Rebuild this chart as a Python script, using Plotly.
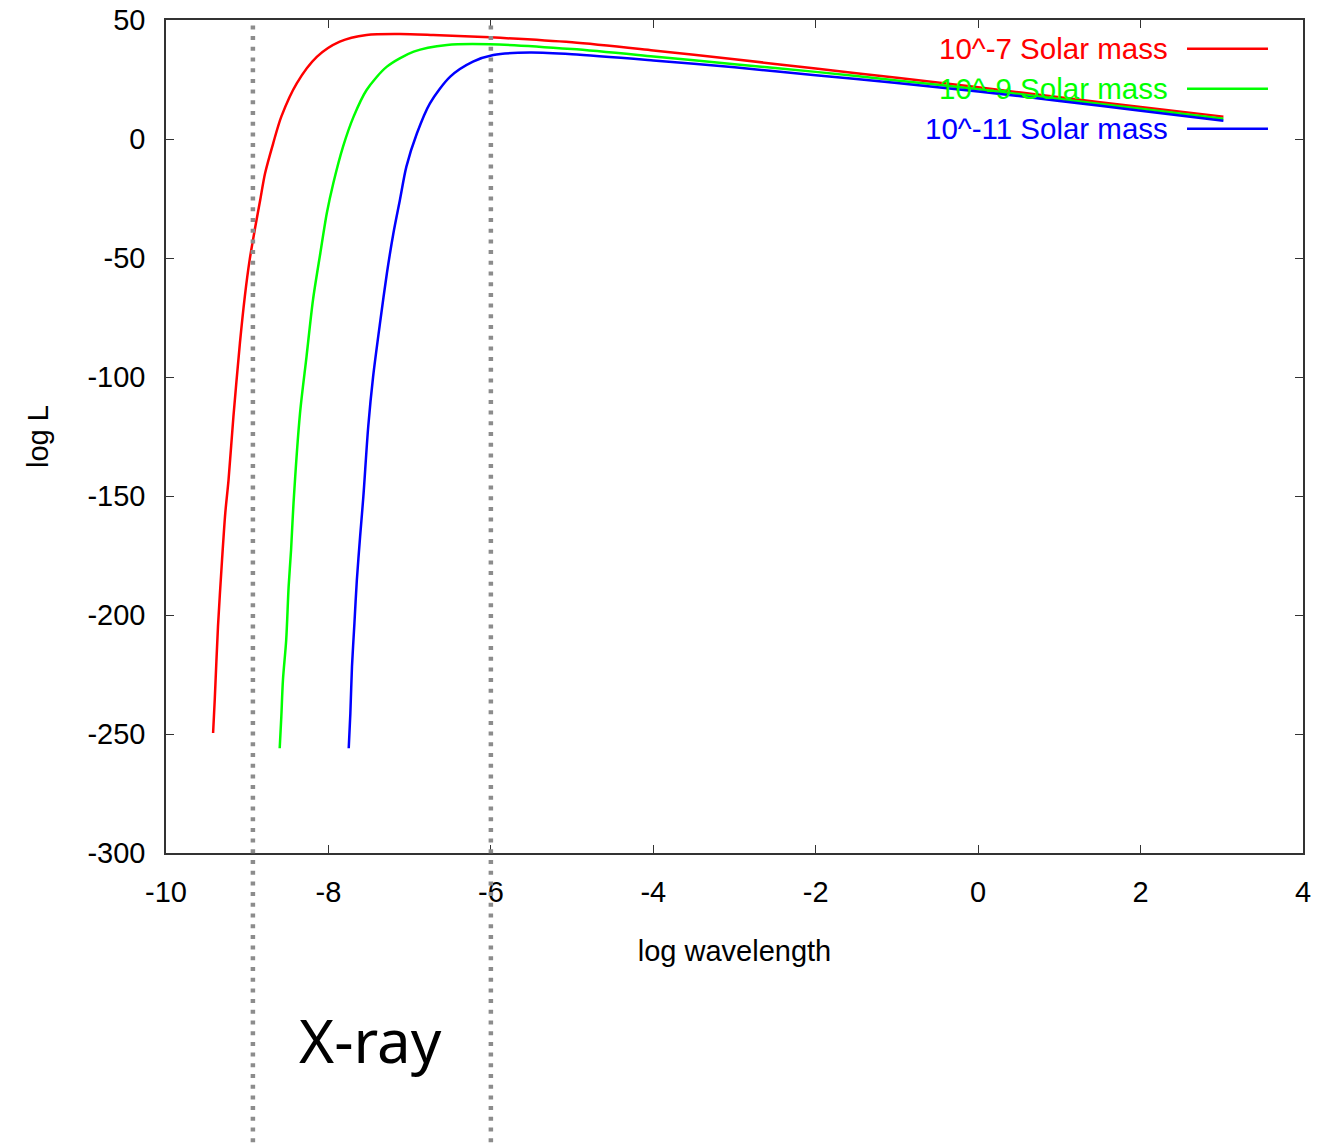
import plotly.graph_objects as go

# ---- data ----
red_x = [-9.42, -9.40, -9.36, -9.31, -9.27, -9.23, -9.17, -9.09, -9.03, -8.97, -8.90, -8.84,
         -8.78, -8.68, -8.58, -8.39, -8.14, -7.86, -7.53, -7.12, -6.71, -6.01,
         -5.0, -4.0, -3.0, -2.0, -1.0, 0.0, 1.0, 2.0, 3.02]
red_y = [-249.6, -235.7, -204.9, -176.9, -157.1, -143.3, -116.7, -85.8, -66.3, -50.8, -36.8, -25.6,
         -14.4, -1.8, 9.4, 23.4, 34.6, 40.9, 43.7, 44.1, 43.7, 42.7,
         40.6, 37.2, 33.5, 29.6, 25.7, 21.7, 17.5, 13.4, 9.4]

green_x = [-8.60, -8.58, -8.56, -8.52, -8.49, -8.46, -8.43, -8.35, -8.27, -8.19, -8.10, -8.02,
           -7.94, -7.82, -7.69, -7.53, -7.28, -6.95, -6.54, -6.01,
           -5.0, -4.0, -3.0, -2.0, -1.0, 0.0, 1.0, 2.0, 3.02]
green_y = [-256.0, -242.7, -227.3, -210.5, -188.1, -172.7, -153.1, -115.3, -91.5, -67.6, -48.0, -31.2,
           -18.6, -3.2, 9.4, 20.6, 30.4, 36.7, 39.5, 39.8,
           37.8, 34.7, 31.4, 28.2, 24.6, 20.9, 16.8, 12.7, 8.5]

blue_x = [-7.75, -7.73, -7.71, -7.68, -7.65, -7.61, -7.57, -7.51, -7.45, -7.36, -7.28, -7.20,
          -7.12, -7.04, -6.91, -6.75, -6.50, -6.22, -5.97, -5.52,
          -5.0, -4.0, -3.0, -2.0, -1.0, 0.0, 1.0, 2.0, 3.02]
blue_y = [-256.0, -241.3, -221.7, -203.5, -185.3, -167.1, -150.3, -120.9, -99.9, -76.1, -56.4, -39.6,
          -25.6, -11.6, 2.4, 15.0, 26.2, 32.5, 35.3, 36.3,
          35.6, 33.0, 30.1, 26.8, 23.5, 20.0, 16.0, 11.9, 7.7]

series_names = ["10^-7 Solar mass", "10^-9 Solar mass", "10^-11 Solar mass"]
series_colors = ["#ff0000", "#00ff00", "#0000ff"]

xray_bounds = [-8.93, -6.0]
xray_label = "X-ray"

x_ticks = [-10, -8, -6, -4, -2, 0, 2, 4]
y_ticks = [50, 0, -50, -100, -150, -200, -250, -300]

FONT = "Liberation Sans, Arial, sans-serif"

fig = go.Figure()
for xs, ys, name, col in zip([red_x, green_x, blue_x], [red_y, green_y, blue_y],
                             series_names, series_colors):
    fig.add_trace(go.Scatter(x=xs, y=ys, mode="lines", name=name,
                             line=dict(color=col, width=2.5, shape="spline", smoothing=0.8),
                             showlegend=False))

# X-ray band boundaries (dotted, extending below the plot)
for xb in xray_bounds:
    fig.add_shape(type="line", xref="x", yref="paper", x0=xb, x1=xb, y0=-0.36, y1=1.0,
                  line=dict(color="#8c8c8c", width=4.5, dash="4px,6.7px"), layer="above")

fig.add_annotation(x=(xray_bounds[0] + xray_bounds[1]) / 2 - 0.02, y=-0.2245, xref="x", yref="paper",
                   text=xray_label, showarrow=False, xanchor="center", yanchor="middle",
                   font=dict(family="Noto Sans, sans-serif", size=60, color="black"))

# legend drawn as text + sample line (gnuplot style)
leg_y = [0.9655, 0.9175, 0.8695]
for name, col, ly in zip(series_names, series_colors, leg_y):
    fig.add_annotation(x=0.8832, y=ly, xref="paper", yref="paper", text=name, showarrow=False,
                       xanchor="right", yanchor="middle",
                       font=dict(family=FONT, size=29.5, color=col))
    fig.add_shape(type="line", xref="paper", yref="paper", x0=0.898, x1=0.9692, y0=ly, y1=ly,
                  line=dict(color=col, width=2.5))

fig.update_xaxes(range=[-10, 4], tickvals=x_ticks, ticktext=[str(v) for v in x_ticks],
                 ticks="inside", ticklen=8, tickwidth=1.2, tickcolor="#333",
                 showline=True, linecolor="#333", linewidth=1.5, mirror="ticks",
                 showgrid=False, zeroline=False, ticklabelstandoff=12, automargin=False,
                 tickfont=dict(family=FONT, size=29, color="black"),
                 title=dict(text="log wavelength", standoff=34,
                            font=dict(family=FONT, size=29, color="black")))
fig.update_yaxes(range=[-300, 50], tickvals=y_ticks, ticktext=[str(v) for v in y_ticks],
                 ticks="inside", ticklen=8, tickwidth=1.2, tickcolor="#333",
                 showline=True, linecolor="#333", linewidth=1.5, mirror="ticks",
                 showgrid=False, zeroline=False, ticklabelstandoff=13, automargin=False,
                 tickfont=dict(family=FONT, size=29, color="black"),
                 title=dict(text="log L", standoff=30,
                            font=dict(family=FONT, size=29, color="black")))

fig.update_layout(width=1327, height=1147,
                  margin=dict(l=166, r=24, t=20, b=294, autoexpand=False),
                  plot_bgcolor="white", paper_bgcolor="white", showlegend=False)

fig.write_html("out.html")
